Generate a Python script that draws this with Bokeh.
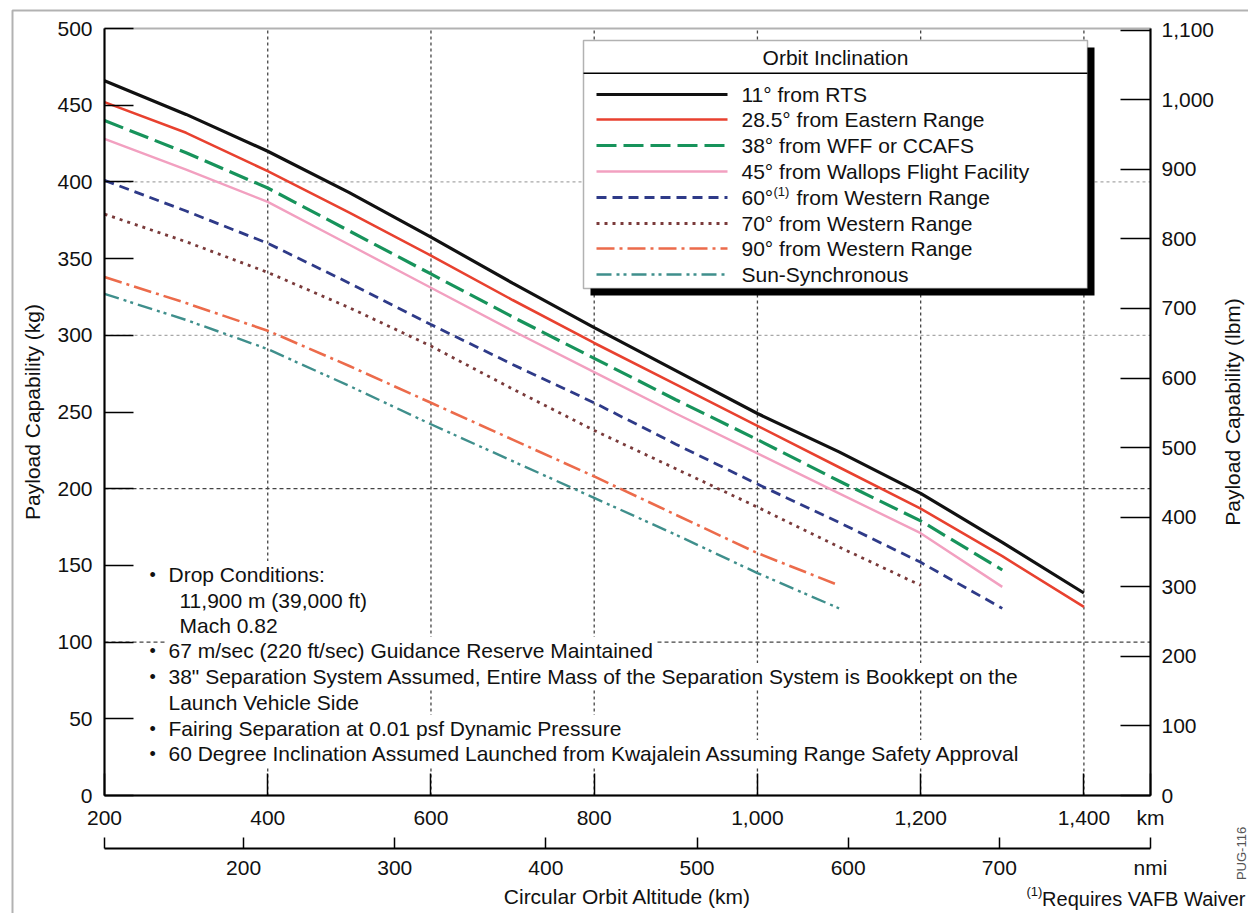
from bokeh.plotting import figure
from bokeh.models import (Range1d, LinearAxis, FixedTicker, CustomJSTickFormatter,
                          Label, BoxAnnotation)
from bokeh.embed import file_html
from bokeh.resources import INLINE
import math

# ---------------- data ----------------
altitude_km = [200, 300, 400, 500, 600, 700, 800, 900, 1000, 1100, 1200, 1300, 1400]
payload_11 = [466, 444, 420, 393, 364, 334, 305, 277, 249, 224, 197, 165, 132]
payload_28_5 = [452, 432, 407, 380, 352, 323, 295, 268, 241, 214, 187, 156, 123]
payload_38 = [440, 419, 396, 368, 340, 312, 285, 258, 232, 205, 179, 147]
payload_45 = [428, 408, 387, 359, 331, 303, 276, 249, 223, 197, 171, 136]
payload_60 = [401, 381, 360, 334, 307, 281, 256, 229, 203, 178, 152, 122]
payload_70 = [379, 361, 341, 318, 293, 265, 238, 213, 188, 162, 137]
payload_90 = [338, 321, 303, 280, 256, 232, 208, 183, 158, 137]
payload_sso = [327, 310, 291, 267, 242, 218, 194, 170, 145, 122]

series_names = ["11\u00b0 from RTS", "28.5\u00b0 from Eastern Range", "38\u00b0 from WFF or CCAFS",
                "45\u00b0 from Wallops Flight Facility", "60\u00b0", "70\u00b0 from Western Range",
                "90\u00b0 from Western Range", "Sun-Synchronous"]
series_values = [payload_11, payload_28_5, payload_38, payload_45, payload_60,
                 payload_70, payload_90, payload_sso]
series_colors = ["#111111", "#e8412f", "#17935b", "#f2a0c0", "#2e3a88", "#7a3a3a", "#ec6b4b", "#3f8f8c"]
series_dash = ["solid", "solid", "20 7", "solid", "10 6", "3 5", "18 5 3 5", "15 5 3 4 3 5"]
series_width = [3.2, 2.6, 3.2, 2.4, 2.8, 2.8, 2.6, 2.4]

km_ticks = [200, 400, 600, 800, 1000, 1200, 1400]
kg_ticks = list(range(0, 501, 50))
lbm_ticks = list(range(0, 1101, 100))
nmi_ticks = [200, 300, 400, 500, 600, 700]
grid_km = [400, 600, 800, 1000, 1200, 1400]
grid_kg_light = [300, 400]
grid_kg_dark = [100, 200]

notes = [("\u2022", "Drop Conditions:"), ("", "11,900 m (39,000 ft)"), ("", "Mach 0.82"),
         ("\u2022", "67 m/sec (220 ft/sec) Guidance Reserve Maintained"),
         ("\u2022", "38\" Separation System Assumed, Entire Mass of the Separation System is Bookkept on the"),
         ("", "Launch Vehicle Side"),
         ("\u2022", "Fairing Separation at 0.01 psf Dynamic Pressure"),
         ("\u2022", "60 Degree Inclination Assumed Launched from Kwajalein Assuming Range Safety Approval")]
notes_indent = [False, True, True, False, False, False, False, False]

KM_PER_NMI = 1.852
LBM_PER_KG = 2.20462
X0, X1 = 200.0, 800 * KM_PER_NMI
Y0, Y1 = 0.0, 500.0

# ---------------- layout geometry (pixels) ----------------
W, H = 1248, 913
FL, FR, FT, FB = 104, 1150, 28, 795      # the chart's plot box inside the canvas
FW, FH = FR - FL, FB - FT
FONT = "Liberation Sans"


def px2x(px):
    return X0 + (px - FL) * (X1 - X0) / FW


def py2y(py):
    return Y0 + (FB - py) * (Y1 - Y0) / FH


# the frame covers the whole canvas; axes are pinned to the plot box edges
p = figure(width=W, height=H, x_range=Range1d(px2x(0), px2x(W)), y_range=Range1d(py2y(H), py2y(0)),
           output_backend="svg", toolbar_location=None,
           x_axis_location=None, y_axis_location=None,
           min_border=0, min_border_left=0, min_border_right=0, min_border_top=0, min_border_bottom=0)
p.background_fill_color = "white"
p.border_fill_color = "white"
p.outline_line_color = None
for g in p.xgrid + p.ygrid:
    g.visible = False
p.extra_x_ranges = {"nmi": Range1d(px2x(0) / KM_PER_NMI, px2x(W) / KM_PER_NMI)}
p.extra_y_ranges = {"lbm": Range1d(py2y(H) * LBM_PER_KG, py2y(0) * LBM_PER_KG)}

comma_js = """
const v = Math.round(tick);
if (v >= 1000) { const r = v % 1000; return Math.floor(v/1000) + "," + (r < 10 ? "00" : (r < 100 ? "0" : "")) + r; }
return String(v);
"""


def style_axis(ax, tick_in):
    ax.major_tick_in = tick_in
    ax.major_tick_out = 0
    ax.minor_tick_in = 0
    ax.minor_tick_out = 0
    ax.axis_line_width = 2
    ax.axis_line_color = "black"
    ax.major_tick_line_width = 1.5
    ax.major_tick_line_color = "black"
    ax.major_label_text_font = FONT
    ax.major_label_text_font_size = "21px"
    ax.major_label_text_color = "#111111"
    ax.axis_label_text_font = FONT
    ax.axis_label_text_font_size = "21px"
    ax.axis_label_text_font_style = "normal"
    ax.axis_label_text_color = "#111111"


# grid lines (under everything)
n = len(grid_km)
p.segment(x0=grid_km, y0=[Y0] * n, x1=grid_km, y1=[Y1] * n, line_color="#444444",
          line_dash="3 3", line_width=1.3, level="underlay")
p.segment(x0=[X0] * 2, y0=grid_kg_light, x1=[X1] * 2, y1=grid_kg_light, line_color="#a8a8a8",
          line_dash="3 3", line_width=1.3, level="underlay")
p.segment(x0=[X0] * 2, y0=grid_kg_dark, x1=[X1] * 2, y1=grid_kg_dark, line_color="#444444",
          line_dash="4 3", line_width=1.3, level="underlay")

km_axis = LinearAxis(fixed_location=Y0, bounds=(X0, X1),
                     ticker=FixedTicker(ticks=km_ticks + [X1]),
                     formatter=CustomJSTickFormatter(code='if (tick > 1450) return "km";' + comma_js))
style_axis(km_axis, 22)
km_axis.major_label_standoff = 10
p.add_layout(km_axis, "below")

nmi_axis = LinearAxis(x_range_name="nmi", fixed_location=py2y(848),
                      bounds=(X0 / KM_PER_NMI, X1 / KM_PER_NMI),
                      ticker=FixedTicker(ticks=[X0 / KM_PER_NMI] + nmi_ticks + [X1 / KM_PER_NMI]),
                      formatter=CustomJSTickFormatter(
                          code='if (tick > 790) return "nmi"; if (tick < 150) return "";' + comma_js),
                      axis_label="Circular Orbit Altitude (km)")
style_axis(nmi_axis, 11)
nmi_axis.major_label_standoff = 7
nmi_axis.axis_label_standoff = 3
p.add_layout(nmi_axis, "below")

kg_axis = LinearAxis(fixed_location=X0, bounds=(Y0, Y1), ticker=FixedTicker(ticks=kg_ticks),
                     axis_label="Payload Capability (kg)")
style_axis(kg_axis, 29)
kg_axis.major_label_standoff = 12
kg_axis.axis_label_standoff = 10
p.add_layout(kg_axis, "left")

lbm_axis = LinearAxis(y_range_name="lbm", fixed_location=X1, bounds=(Y0 * LBM_PER_KG, Y1 * LBM_PER_KG),
                      ticker=FixedTicker(ticks=lbm_ticks),
                      formatter=CustomJSTickFormatter(code=comma_js))
style_axis(lbm_axis, 30)
lbm_axis.major_label_standoff = 11
p.add_layout(lbm_axis, "right")
p.add_layout(Label(x=px2x(1232), y=(Y0 + Y1) / 2, text="Payload Capability (lbm)", text_font=FONT,
                   text_font_size="21px", angle=math.pi / 2, text_align="center",
                   text_baseline="middle", text_color="#111111"))

# plot box (top edge and frame)
p.add_layout(BoxAnnotation(left=X0, right=X1, bottom=Y0, top=Y1, fill_alpha=0,
                           line_color="black", line_width=2))

# data lines
for vals, col, dash, lw in zip(series_values, series_colors, series_dash, series_width):
    p.line(x=altitude_km[:len(vals)], y=vals, line_color=col, line_dash=dash, line_width=lw)

# notes block (white-backed text rows cover the grid behind them)
row_y = [574, 600, 625, 650, 676, 702, 728, 753]
for (bullet, txt), ind, ry in zip(notes, notes_indent, row_y):
    if bullet:
        p.add_layout(Label(x=px2x(149), y=py2y(ry), text=bullet, text_font=FONT, text_font_size="18px",
                           text_baseline="middle", text_align="left", text_color="#111111"))
    p.add_layout(Label(x=px2x(177 if ind else 166), y=py2y(ry), text=txt, text_font=FONT,
                       text_font_size="21px", text_baseline="middle", text_align="left",
                       text_color="#111111", background_fill_color="white", padding=2))

# legend box
LX0, LX1, LY0, LY1 = 583, 1087, 40, 288
p.add_layout(BoxAnnotation(left=px2x(LX0 + 7), right=px2x(LX1 + 7), top=py2y(LY0 + 7), bottom=py2y(LY1 + 7),
                           fill_color="black", fill_alpha=1, line_color=None))
p.add_layout(BoxAnnotation(left=px2x(LX0), right=px2x(LX1), top=py2y(LY0), bottom=py2y(LY1),
                           fill_color="white", fill_alpha=1, line_color="black", line_width=1.5))
p.add_layout(BoxAnnotation(left=px2x(LX0), right=px2x(LX1), top=py2y(72), bottom=py2y(73.5),
                           fill_color="black", fill_alpha=1, line_color=None))
p.add_layout(Label(x=px2x((LX0 + LX1) / 2), y=py2y(57), text="Orbit Inclination", text_font=FONT,
                   text_font_size="21px", text_align="center", text_baseline="middle",
                   text_color="#111111", level="overlay"))
item_y = [94, 119, 145, 171, 197, 223, 248, 274]
for name, col, dash, lw, iy in zip(series_names, series_colors, series_dash, series_width, item_y):
    p.line(x=[px2x(596), px2x(727)], y=[py2y(iy), py2y(iy)], line_color=col, line_dash=dash,
           line_width=lw, level="overlay")
    if name == "60\u00b0":
        p.add_layout(Label(x=px2x(741), y=py2y(iy), text="60\u00b0", text_font=FONT, text_font_size="21px",
                           text_baseline="middle", text_color="#111111", level="overlay"))
        p.add_layout(Label(x=px2x(773), y=py2y(iy - 6), text="(1)", text_font=FONT, text_font_size="13px",
                           text_baseline="middle", text_color="#111111", level="overlay"))
        p.add_layout(Label(x=px2x(796), y=py2y(iy), text="from Western Range", text_font=FONT,
                           text_font_size="21px", text_baseline="middle", text_color="#111111",
                           level="overlay"))
    else:
        p.add_layout(Label(x=px2x(741), y=py2y(iy), text=name, text_font=FONT, text_font_size="21px",
                           text_baseline="middle", text_color="#111111", level="overlay"))

# footnote and figure id
p.add_layout(Label(x=px2x(1026), y=py2y(891), text="(1)", text_font=FONT, text_font_size="13px",
                   text_baseline="middle", text_color="#111111"))
p.add_layout(Label(x=px2x(1245), y=py2y(898), text="Requires VAFB Waiver", text_font=FONT,
                   text_font_size="20px", text_align="right", text_baseline="middle", text_color="#111111"))
p.add_layout(Label(x=px2x(1241), y=py2y(853), text="PUG-116", text_font=FONT, text_font_size="13px",
                   angle=math.pi / 2, text_align="center", text_baseline="middle", text_color="#555555"))

# outer border of the figure sheet
p.add_layout(BoxAnnotation(left=px2x(12), right=px2x(1320), top=py2y(10), bottom=py2y(990),
                           fill_alpha=0, line_color="black", line_width=2))

open("out.html", "w").write(file_html(p, INLINE))
